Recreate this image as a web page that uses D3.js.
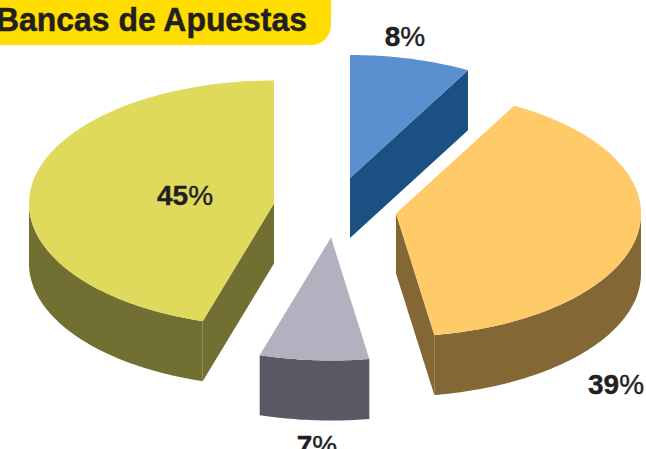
<!DOCTYPE html>
<html><head><meta charset="utf-8">
<script src="https://cdn.jsdelivr.net/npm/d3@7"></script>
<style>html,body{margin:0;padding:0;background:#fff;overflow:hidden}svg{display:block}text{font-family:"Liberation Sans",Arial,sans-serif;fill:#231f20}</style>
</head><body><svg id="c" width="646" height="449"></svg>
<script>
const categories = ["A","B","C","D"];
const values = [8.0, 39.5, 7.2, 45.3];
const labelNumbers = ["8","39","7","45"];
const title = "Bancas de Apuestas";
const topColors = ["#5a90cf","#ffcb69","#b3b0c0","#e0da5c"];
const sideColors = ["#1b5083","#836835","#5a5863","#716f31"];
const centers = [[350,178],[396,213.5],[331,237.5],[274,203.5]];
const labelPos = [[405,46],[616,394],[317,455],[185,205]];

const W=646,H=449,RX=245,RY=123,DEPTH=60;
const svg=d3.select("#c");
svg.append("rect").attr("x",-30).attr("y",-30).attr("width",361).attr("height",75).attr("rx",20).attr("fill","#ffdd00");
svg.append("text").attr("x",-4).attr("y",31).attr("font-size",33).attr("font-weight","bold")
  .attr("stroke","#231f20").attr("stroke-width",0.5)
  .attr("textLength",311).attr("lengthAdjust","spacingAndGlyphs").text(title);

const arcs=d3.pie().sort(null).value(d=>d)(values);
const sx=d3.scaleLinear().domain([-1,1]).range([-RX,RX]);
const sy=d3.scaleLinear().domain([-1,1]).range([-RY,RY]);
const pt=(c,a,dz=0)=>[c[0]+sx(Math.sin(a)),c[1]-sy(Math.cos(a))+dz];
const line=d3.line();
const rimPts=(c,a0,a1,dz=0)=>{const n=Math.max(2,Math.ceil((a1-a0)*60));return d3.range(n+1).map(i=>pt(c,a0+(a1-a0)*i/n,dz));};

const order=[0,3,1,2];
order.forEach(i=>{
  const a=arcs[i],c=centers[i],g=svg.append("g");
  const a0=a.startAngle,a1=a.endAngle,top=rimPts(c,a0,a1);
  const side=(pts)=>g.append("path").attr("d",line(pts)+"Z").attr("fill",sideColors[i]);
  [a0,a1].forEach(t=>{
    const p=pt(c,t);
    if(i===0&&t===a1||i===1&&t===a1||i===3&&t===a0)
      side([c,p,[p[0],p[1]+DEPTH],[c[0],c[1]+DEPTH]]);
  });
  const lo=Math.max(a0,Math.PI/2),hi=Math.min(a1,Math.PI*1.5);
  if(hi>lo){
    const r=rimPts(c,lo,hi);
    side(r.concat(r.slice().reverse().map(p=>[p[0],p[1]+DEPTH])));
  }
  g.append("path").attr("d",line([c].concat(top))+"Z").attr("fill",topColors[i]);
});
labelNumbers.forEach((t,i)=>{
  const el=svg.append("text").attr("x",labelPos[i][0]).attr("y",labelPos[i][1]).attr("text-anchor","middle").attr("font-size",28);
  el.append("tspan").attr("font-weight","bold").attr("stroke","#231f20").attr("stroke-width",0.4).text(t);
  el.append("tspan").attr("font-weight","normal").attr("stroke","#231f20").attr("stroke-width",0.4).text("%");
});
</script></body></html>
